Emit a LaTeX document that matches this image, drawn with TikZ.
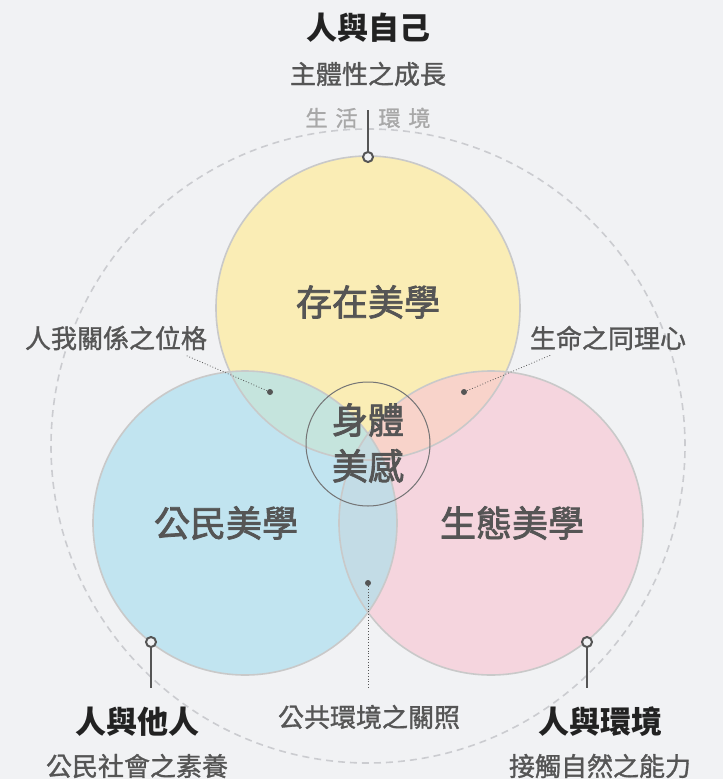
\documentclass[tikz,border=0pt]{standalone}
\usepackage{fontspec}
\setmainfont{Noto Sans CJK TC}
\newfontfamily\midfont[FakeBold=1.2]{Noto Sans CJK TC}
\newfontfamily\areafont[FakeBold=2.2]{Noto Sans CJK TC}
\usepackage{tikz}

\definecolor{bg}{HTML}{F1F2F4}
\definecolor{yel}{HTML}{FAEDB5}
\definecolor{blu}{HTML}{C1E4F0}
\definecolor{pnk}{HTML}{F5D5DE}
\definecolor{ybl}{HTML}{C5E4DD}
\definecolor{ypk}{HTML}{F8D3CA}
\definecolor{bpk}{HTML}{C3DCE6}
\definecolor{tri}{HTML}{C6DCE0}
\definecolor{rim}{HTML}{C9C9C9}
\definecolor{ring}{HTML}{CBCCD0}
\definecolor{ink}{HTML}{555555}
\definecolor{dark}{HTML}{222222}
\definecolor{faint}{HTML}{A8A8A8}

\begin{document}
\begin{tikzpicture}
  [x=1pt,y=-1pt,
   every node/.style={inner sep=0pt,text=ink},
   heading/.style={text=dark,font=\fontsize{31pt}{36pt}\selectfont\bfseries},
   subtitle/.style={font=\fontsize{26pt}{30pt}\midfont},
   area/.style={font=\fontsize{36pt}{46pt}\areafont},
   note/.style={font=\fontsize{26pt}{30pt}\midfont},
   pin/.style={circle,draw=ink,line width=2pt,fill=bg,minimum size=10pt},
   dot/.style={circle,fill=ink,minimum size=6pt}]
  \useasboundingbox (0,0) rectangle (723,779);
  \fill[bg] (0,0) rectangle (723,779);

  % outer ring
  \draw[ring,line width=1.6pt,dash pattern=on 7pt off 5pt] (368,446) circle[radius=317pt];

  % the three circles
  \fill[yel] (368,308) circle[radius=152pt];
  \fill[blu] (245,523) circle[radius=152pt];
  \fill[pnk] (491,523) circle[radius=152pt];
  \begin{scope}
    \clip (368,308) circle[radius=152pt];
    \fill[ybl] (245,523) circle[radius=152pt];
    \fill[ypk] (491,523) circle[radius=152pt];
    \clip (245,523) circle[radius=152pt];
    \fill[tri] (491,523) circle[radius=152pt];
  \end{scope}
  \begin{scope}
    \clip (245,523) circle[radius=152pt];
    \clip (491,523) circle[radius=152pt];
    \fill[bpk] (0,0) rectangle (723,779);
    \clip (368,308) circle[radius=152pt];
    \fill[tri] (0,0) rectangle (723,779);
  \end{scope}
  \foreach \c in {(368,308),(245,523),(491,523)}
    \draw[rim,line width=1.6pt] \c circle[radius=152pt];
  \draw[ink!80!bg,line width=1pt] (368,444) circle[radius=62pt];

  % titles
  \node[heading] (self) at (368,28) {人與自己};
  \node[subtitle] (selfsub) at (368,74) {主體性之成長};
  \node[text=faint,font=\fontsize{22pt}{26pt}\midfont] (life) at (368,118)
    {生\hspace{8pt}活\hspace{21pt}環\hspace{8pt}境};
  \node[heading] (others) at (137,722) {人與他人};
  \node[subtitle] (otherssub) at (137,766) {公民社會之素養};
  \node[heading] (env) at (600,722) {人與環境};
  \node[subtitle] (envsub) at (600,766) {接觸自然之能力};

  \node[area] (exist) at (368,302) {存在美學};
  \node[area] (civic) at (226,523) {公民美學};
  \node[area] (eco) at (512,523) {生態美學};
  \node[area,align=center] (body) at (368,443) {身體\\美感};

  \node[note] (relation) at (116,338) {人我關係之位格};
  \node[note] (empathy) at (608,338) {生命之同理心};
  \node[note] (public) at (369,717) {公共環境之關照};

  % pins
  \node[pin] (ptop) at (368,157) {};
  \node[pin] (pleft) at (151,642) {};
  \node[pin] (pright) at (587,642) {};
  \coordinate (ttop) at (368,110);
  \coordinate (tleft) at (151,688);
  \coordinate (tright) at (587,688);
  \foreach \from/\to in {ptop/ttop,pleft/tleft,pright/tright}
    \draw[ink,line width=2pt] (\from) -- (\to);

  % overlap notes
  \node[dot] (dleft) at (270,392) {};
  \node[dot] (dright) at (464,392) {};
  \node[dot] (dbottom) at (368,583) {};
  \coordinate (eleft) at (185,355);
  \coordinate (eright) at (551,355);
  \coordinate (ebottom) at (368,688);
  \foreach \from/\to in {dleft/eleft,dright/eright,dbottom/ebottom}
    \draw[ink,line width=0.8pt,dotted] (\from) -- (\to);

\end{tikzpicture}
\end{document}
